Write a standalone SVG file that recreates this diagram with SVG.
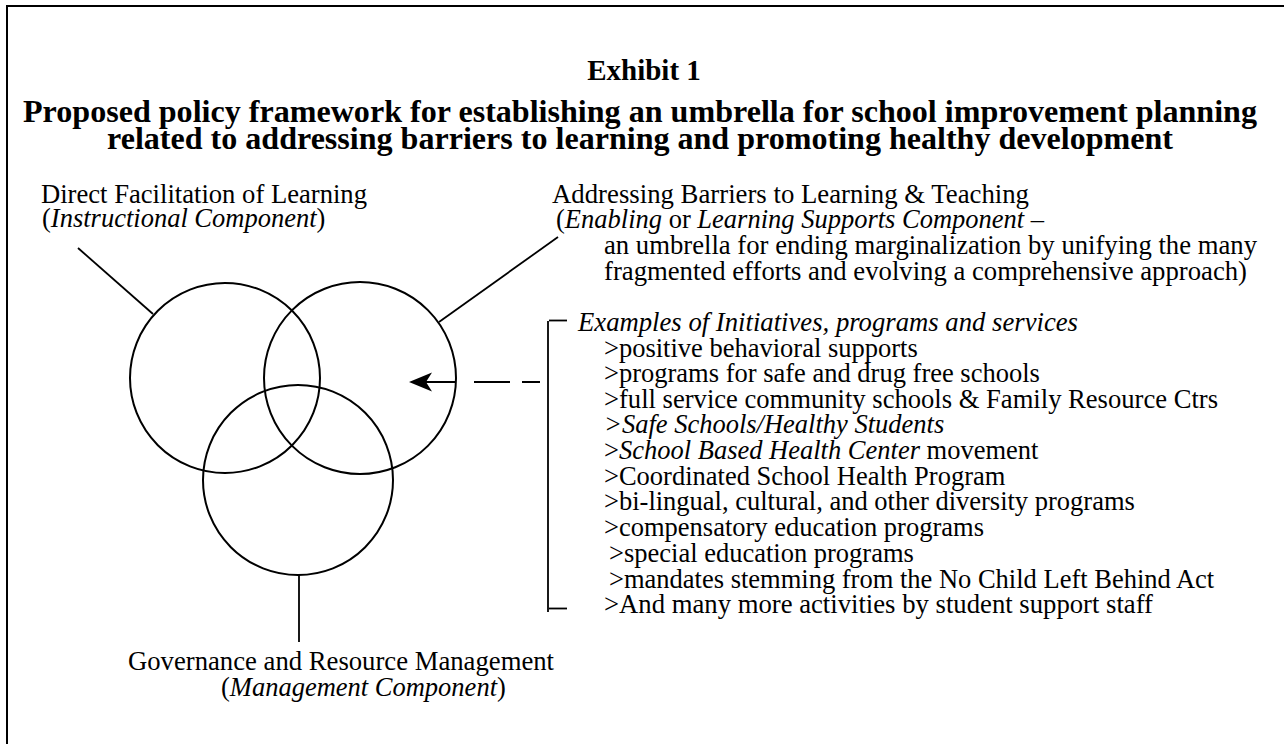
<svg xmlns="http://www.w3.org/2000/svg" width="1284" height="744" viewBox="0 0 1284 744">
<style>
  text { font-family: "Liberation Serif", "Times New Roman", serif; fill: #000; }
  .t { font-size: 26.5px; }
  .b { font-weight: bold; }
  .i { font-style: italic; }
  .ring { fill: none; stroke: #000; stroke-width: 2; }
  .ln { fill: none; stroke: #000; stroke-width: 1.8; }
</style>
<defs>
  <marker id="ah" viewBox="0 0 23 20" markerWidth="23" markerHeight="20" refX="12" refY="10" orient="auto" markerUnits="userSpaceOnUse">
    <path d="M0 0.5 L23 10 L0 19.5 L6 10 Z" fill="#000"/>
  </marker>
</defs>
<rect x="0" y="0" width="1284" height="744" fill="#fff"/>
<rect x="7" y="6" width="1300" height="760" fill="none" stroke="#000" stroke-width="2"/>

<g id="title">
  <text class="b" x="644" y="80" font-size="29" text-anchor="middle">Exhibit 1</text>
  <text class="b" x="23" y="122" font-size="31" textLength="1234" lengthAdjust="spacingAndGlyphs">Proposed policy framework for establishing an umbrella for school improvement planning</text>
  <text class="b" x="107" y="149" font-size="31" textLength="1066" lengthAdjust="spacingAndGlyphs">related to addressing barriers to learning and promoting healthy development</text>
</g>

<g id="node-instructional">
  <circle class="ring" cx="225" cy="378" r="95"/>
  <text class="t" x="41" y="203" textLength="326" lengthAdjust="spacingAndGlyphs">Direct Facilitation of Learning</text>
  <text class="t" x="42" y="227">(<tspan class="i">Instructional Component</tspan>)</text>
</g>

<g id="node-enabling">
  <circle class="ring" cx="360" cy="378" r="96"/>
  <text class="t" x="552" y="203" textLength="477" lengthAdjust="spacingAndGlyphs">Addressing Barriers to Learning &amp; Teaching</text>
  <text class="t" x="556" y="228">(<tspan class="i">Enabling</tspan> or <tspan class="i">Learning Supports Component</tspan> –</text>
  <text class="t" x="604" y="254" textLength="653" lengthAdjust="spacingAndGlyphs">an umbrella for ending marginalization by unifying the many</text>
  <text class="t" x="604" y="280" textLength="643" lengthAdjust="spacingAndGlyphs">fragmented efforts and evolving a comprehensive approach)</text>
</g>

<g id="node-management">
  <circle class="ring" cx="298" cy="480" r="95"/>
  <text class="t" x="128" y="670" textLength="426" lengthAdjust="spacingAndGlyphs">Governance and Resource Management</text>
  <text class="t" x="221" y="696">(<tspan class="i">Management Component</tspan>)</text>
</g>

<g id="examples">
  <text class="t i" x="578" y="331" textLength="500" lengthAdjust="spacingAndGlyphs">Examples of Initiatives, programs and services</text>
  <text class="t" x="604" y="357">&gt;positive behavioral supports</text>
  <text class="t" x="604" y="382">&gt;programs for safe and drug free schools</text>
  <text class="t" x="604" y="408" textLength="614" lengthAdjust="spacingAndGlyphs">&gt;full service community schools &amp; Family Resource Ctrs</text>
  <text class="t i" x="604" y="433">&gt;Safe Schools/Healthy Students</text>
  <text class="t" x="604" y="459">&gt;<tspan class="i">School Based Health Center</tspan> movement</text>
  <text class="t" x="604" y="485">&gt;Coordinated School Health Program</text>
  <text class="t" x="604" y="510">&gt;bi-lingual, cultural, and other diversity programs</text>
  <text class="t" x="604" y="536">&gt;compensatory education programs</text>
  <text class="t" x="609" y="562">&gt;special education programs</text>
  <text class="t" x="609" y="588">&gt;mandates stemming from the No Child Left Behind Act</text>
  <text class="t" x="604" y="613" textLength="549" lengthAdjust="spacingAndGlyphs">&gt;And many more activities by student support staff</text>
</g>

<g id="connectors">
  <line class="ln" x1="78" y1="248" x2="153" y2="314" stroke-width="1.5"/>
  <line class="ln" x1="558" y1="237" x2="439" y2="322" stroke-width="1.5"/>
  <line class="ln" x1="299" y1="575" x2="299" y2="642" stroke-width="3"/>
  <path class="ln" d="M540 382 H522 M510 382 H474 M456 382 H420" stroke-width="2" marker-end="url(#ah)"/>
  <line class="ln" x1="548" y1="321" x2="548" y2="612" stroke-width="1.8"/>
  <line class="ln" x1="549" y1="320.5" x2="567" y2="320.5" stroke-width="3"/>
  <line class="ln" x1="549" y1="608.5" x2="567" y2="608.5" stroke-width="3"/>
</g>
</svg>
